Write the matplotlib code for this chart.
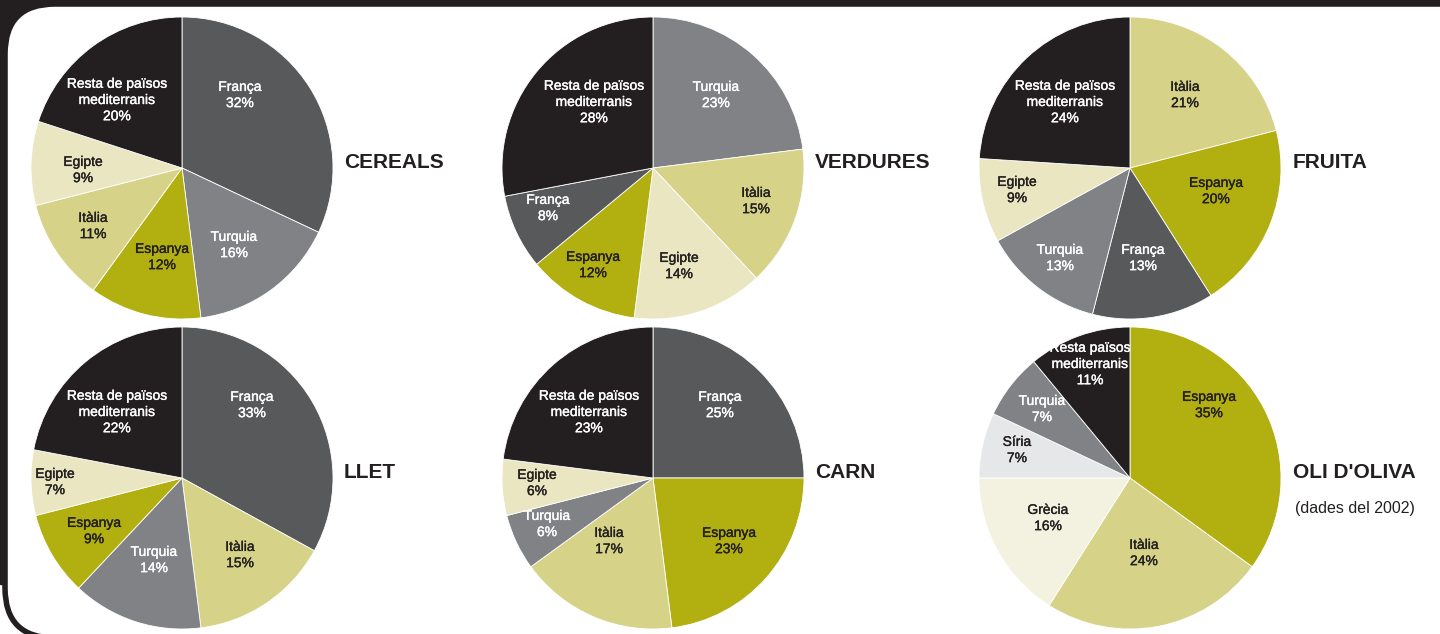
import matplotlib.pyplot as plt
import matplotlib.patheffects as pe
from matplotlib import font_manager
from matplotlib.patches import FancyBboxPatch, Rectangle

installed = {f.name for f in font_manager.fontManager.ttflist}
LABEL_FONT = 'Liberation Sans Narrow' if 'Liberation Sans Narrow' in installed else 'Liberation Sans'
plt.rcParams['font.family'] = [LABEL_FONT, 'DejaVu Sans']

BLACK = '#231f20'
DARK = '#58595b'
MID = '#808285'
OLIVE = '#b2b011'
KHAKI = '#d6d389'
PALE = '#e9e6c1'
SYRIA = '#e6e7e8'
GREECE = '#f3f2e0'

# data (clockwise from 12 o'clock)
titles = ['CEREALS', 'VERDURES', 'FRUITA', 'LLET', 'CARN', "OLI D'OLIVA"]

cereals_names = ['França', 'Turquia', 'Espanya', 'Itàlia', 'Egipte', 'Resta de països\nmediterranis']
cereals_vals = [32, 16, 12, 11, 9, 20]
cereals_cols = [DARK, MID, OLIVE, KHAKI, PALE, BLACK]

verdures_names = ['Turquia', 'Itàlia', 'Egipte', 'Espanya', 'França', 'Resta de països\nmediterranis']
verdures_vals = [23, 15, 14, 12, 8, 28]
verdures_cols = [MID, KHAKI, PALE, OLIVE, DARK, BLACK]

fruita_names = ['Itàlia', 'Espanya', 'França', 'Turquia', 'Egipte', 'Resta de països\nmediterranis']
fruita_vals = [21, 20, 13, 13, 9, 24]
fruita_cols = [KHAKI, OLIVE, DARK, MID, PALE, BLACK]

llet_names = ['França', 'Itàlia', 'Turquia', 'Espanya', 'Egipte', 'Resta de països\nmediterranis']
llet_vals = [33, 15, 14, 9, 7, 22]
llet_cols = [DARK, KHAKI, MID, OLIVE, PALE, BLACK]

carn_names = ['França', 'Espanya', 'Itàlia', 'Turquia', 'Egipte', 'Resta de països\nmediterranis']
carn_vals = [25, 23, 17, 6, 6, 23]
carn_cols = [DARK, OLIVE, KHAKI, MID, PALE, BLACK]

oli_names = ['Espanya', 'Itàlia', 'Grècia', 'Síria', 'Turquia', 'Resta països\nmediterranis']
oli_vals = [35, 24, 16, 7, 7, 11]
oli_cols = [OLIVE, KHAKI, GREECE, SYRIA, MID, BLACK]

# layout: label offsets from pie centre in pixels (x right, y up)
cereals_pos = [(58, 73), (52, -77), (-20, -89), (-89, -58), (-99, -2), (-65, 68)]
verdures_pos = [(63, 73), (103, -33), (26, -98), (-60, -97), (-105, -40), (-59, 66)]
fruita_pos = [(55, 73), (86, -23), (13, -90), (-70, -90), (-113, -22), (-65, 66)]
llet_pos = [(70, 73), (58, -77), (-28, -82), (-88, -53), (-127, -4), (-65, 66)]
carn_pos = [(67, 73), (76, -63), (-44, -63), (-106, -46), (-116, -5), (-64, 66)]
oli_pos = [(79, 73), (14, -75), (-82, -40), (-113, 28), (-88, 69), (-40, 114)]

W, H = 1440, 634
fig = plt.figure(figsize=(W / 100, H / 100), dpi=100)
ax = fig.add_axes([0, 0, 1, 1])
ax.set_xlim(0, W)
ax.set_ylim(0, H)
ax.axis('off')

# frame: dark band on top and left, rounded white panel
ax.add_patch(Rectangle((0, H - 7), W, 7, color=BLACK, zorder=0))
ax.add_patch(Rectangle((0, H - 80), 80, 80, color=BLACK, zorder=0))
ax.add_patch(Rectangle((0, 50), 5, H - 50, color=BLACK, zorder=0))
ax.add_patch(FancyBboxPatch((5, -4), 1600, H,
                            boxstyle='round,pad=0,rounding_size=50',
                            facecolor='white', edgecolor=BLACK, linewidth=4, zorder=1))

charts = [
    (cereals_names, cereals_vals, cereals_cols, cereals_pos),
    (verdures_names, verdures_vals, verdures_cols, verdures_pos),
    (fruita_names, fruita_vals, fruita_cols, fruita_pos),
    (llet_names, llet_vals, llet_cols, llet_pos),
    (carn_names, carn_vals, carn_cols, carn_pos),
    (oli_names, oli_vals, oli_cols, oli_pos),
]
centres = [(182, H - 168), (653, H - 168), (1130, H - 168),
           (182, H - 478), (653, H - 478), (1130, H - 478)]
title_x = [344, 815, 1293, 344, 815, 1293]
R = 151
white_text = {BLACK, DARK, MID}

for i, (names, vals, cols, pos) in enumerate(charts):
    cx, cy = centres[i]
    wedges, _ = ax.pie(vals, colors=cols, startangle=90, counterclock=False,
                       radius=R, center=(cx, cy),
                       wedgeprops=dict(edgecolor='white', linewidth=0.6))
    for w in wedges:
        w.set_zorder(2)
    for name, v, c, (dx, dy) in zip(names, vals, cols, pos):
        tc = 'white' if c in white_text else BLACK
        t = ax.text(cx + dx, cy + dy, f'{name}\n{v}%', ha='center', va='center',
                    fontsize=10, color=tc, linespacing=1.2, zorder=3)
        # a touch of extra weight (medium, between regular and bold)
        t.set_path_effects([pe.withStroke(linewidth=0.25, foreground=tc)])
    ax.text(title_x[i], cy + 6, titles[i], ha='left', va='center',
            fontsize=15, fontweight='bold', color=BLACK, zorder=3,
            family=['Liberation Sans', 'DejaVu Sans'])

ax.text(1295, H - 508, '(dades del 2002)', ha='left', va='center',
        fontsize=11.5, color=BLACK, zorder=3)

ax.set_xlim(0, W)
ax.set_ylim(0, H)
ax.set_aspect('auto')
fig.savefig('out.png', dpi=100)
